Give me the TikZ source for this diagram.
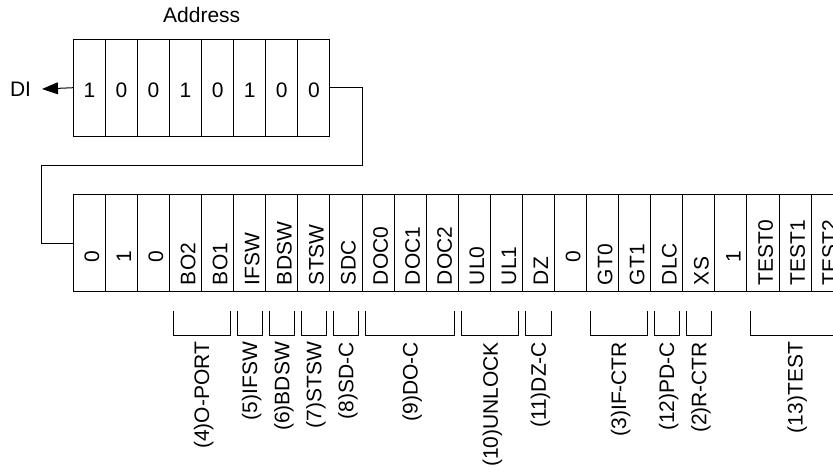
\documentclass[tikz,border=0pt]{standalone}
\usepackage{fontspec}
\setmainfont{Liberation Sans}
\usetikzlibrary{arrows.meta}
\begin{document}
\begin{tikzpicture}[x=1pt,y=-1pt,line width=1pt,
  every node/.style={font=\fontsize{21}{25}\selectfont,inner sep=0pt,outer sep=0pt},
  regcell/.style={draw,minimum width=32.08pt,minimum height=96.7pt},
  bitcell/.style={draw,minimum width=32.08pt,minimum height=97.4pt},
  bittext/.style={rotate=90,anchor=west},
  grouptext/.style={rotate=90,anchor=east}]
\path[use as bounding box,clip] (0,0) rectangle (833,472);

% address register
\node (addr) at (201.7,15) {Address};
\foreach \i/\v in {0/1,1/0,2/0,3/1,4/0,5/1,6/0,7/0}{
  \pgfmathsetmacro\cx{73.3+(\i+0.5)*32.08}
  \node[regcell] (a\i) at (\cx,87.7) {};
  \node (av\i) at (\cx,90) {\v};
}
\node (di) at (20.5,89.5) {DI};
\draw[-{Triangle[length=16pt,width=12pt]},shorten >=11pt] (a0.west) -- (di.east);

% data register
\foreach \i/\t/\y in {0/0/262,1/1/262,2/0/262,3/BO2/285,4/BO1/285,5/IFSW/285,
  6/BDSW/285,7/STSW/285,8/SDC/285,9/DOC0/285,10/DOC1/285,11/DOC2/285,
  12/UL0/285,13/UL1/285,14/DZ/285,15/0/262,16/GT0/285,17/GT1/285,
  18/DLC/285,19/XS/285,20/1/262,21/TEST0/285,22/TEST1/285,23/TEST2/285}{
  \pgfmathsetmacro\cx{73.3+(\i+0.5)*32.08}
  \node[bitcell] (b\i) at (\cx,243) {};
  \node[bittext] (bt\i) at (\cx+2.5,\y) {\t};
}

% shift path from the address register into the data register
\coordinate (turnA) at (362,165);
\coordinate (turnB) at (41.7,165);
\draw (a7.east) -| (turnA) -- (turnB) |- (b0.west);

% field groups
\foreach \f/\l/\t in {3/4/{(4)O-PORT},5/5/{(5)IFSW},6/6/{(6)BDSW},7/7/{(7)STSW},
  8/8/{(8)SD-C},9/11/{(9)DO-C},12/13/{(10)UNLOCK},14/14/{(11)DZ-C},
  16/17/{(3)IF-CTR},18/18/{(12)PD-C},19/19/{(2)R-CTR},21/23/{(13)TEST}}{
  \pgfmathsetmacro\xa{73.3+\f*32.08+3.5}
  \pgfmathsetmacro\xb{73.3+(\l+1)*32.08-3.5}
  \pgfmathsetmacro\xc{(\xa+\xb)/2+2}
  \draw (\xa,310.7) |- (\xb,335) -- (\xb,310.7);
  \node[grouptext] (g\f) at (\xc,342) {\t};
}
\end{tikzpicture}
\end{document}
